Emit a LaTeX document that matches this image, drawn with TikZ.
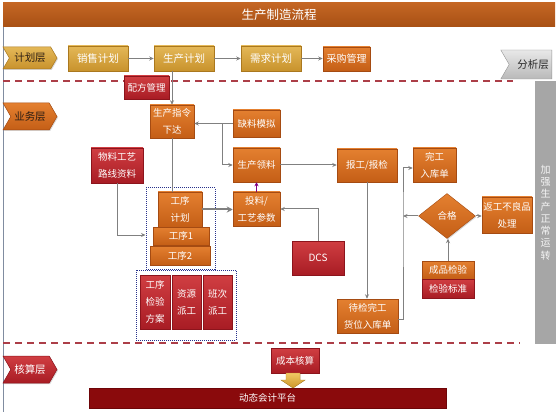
\documentclass[tikz,border=0pt]{standalone}
\usepackage{fontspec}
\setmainfont{Noto Sans CJK SC}
\usetikzlibrary{arrows.meta,shapes.geometric,shapes.symbols,shadows}
\definecolor{conn}{RGB}{128,128,128}
\definecolor{otop}{RGB}{228,128,48}
\definecolor{obot}{RGB}{196,94,22}
\definecolor{obd}{RGB}{165,75,18}
\definecolor{rtop}{RGB}{208,62,66}
\definecolor{rbot}{RGB}{168,28,36}
\definecolor{rbd}{RGB}{140,20,28}
\definecolor{gtop}{RGB}{228,184,88}
\definecolor{gbot}{RGB}{200,146,44}
\definecolor{gbd}{RGB}{170,120,30}
\definecolor{ttop}{RGB}{196,102,36}
\definecolor{tbot}{RGB}{168,80,20}
\definecolor{dred}{RGB}{138,10,12}
\definecolor{dredbd}{RGB}{110,5,8}
\definecolor{dashc}{RGB}{172,62,72}
\definecolor{dotc}{RGB}{40,50,140}
\definecolor{grayb}{RGB}{166,166,166}
\definecolor{graytxt}{RGB}{245,245,245}
\definecolor{fxtop}{RGB}{232,232,232}
\definecolor{fxbot}{RGB}{185,185,185}
\definecolor{fxbd}{RGB}{150,150,150}
\definecolor{fxtxt}{RGB}{40,40,40}
\definecolor{layertxt}{RGB}{45,30,20}
\definecolor{borderc}{RGB}{128,140,160}
\definecolor{arrtop}{RGB}{240,200,100}
\definecolor{arrbot}{RGB}{205,150,40}
\definecolor{arrbd}{RGB}{190,140,40}
\begin{document}
\begin{tikzpicture}[x=1pt,y=-1pt,
  base/.style={rectangle, inner sep=0pt, align=center, text=white,
    font=\fontsize{9.5}{17}\selectfont, line width=0.5pt,
    drop shadow={shadow xshift=1pt, shadow yshift=-1pt, opacity=0.3}},
  obox/.style={base, draw=obd, top color=otop, bottom color=obot},
  rbox/.style={base, draw=rbd, top color=rtop, bottom color=rbot},
  gbox/.style={base, draw=gbd, top color=gtop, bottom color=gbot, font=\fontsize{10.5}{14}\selectfont},
  layer/.style={signal, signal to=east, signal from=west, signal pointer angle=120,
    inner sep=0pt, text=white, font=\fontsize{10.5}{14}\selectfont, line width=0.5pt,
    drop shadow={shadow xshift=1pt, shadow yshift=-1pt, opacity=0.3}},
  dotbox/.style={rectangle, draw=dotc, line width=1pt, dash pattern=on 1pt off 1pt, inner sep=0pt},
  line/.style={draw=conn, line width=1pt},
  arr/.style={line, -{Stealth[length=4.5pt,width=4pt]}},
  thickarr/.style={draw=conn, line width=2pt, -{Stealth[length=6pt,width=6pt]}},
  purplearr/.style={draw=violet, line width=1pt, -{Stealth[length=4pt,width=4pt]}},
  dashline/.style={draw=dashc, line width=1.3pt, dash pattern=on 7pt off 5pt}]
\useasboundingbox (0,0) rectangle (558,412);
\fill[white] (0,0) rectangle (558,412);
\draw[draw=borderc, line width=0.8pt] (3,3) -- (3,412);

% dashed separators
\draw[dashline] (3,81) -- (513,81);
\draw[dashline] (3,343) -- (520,343);

% title
\node[rectangle, inner sep=0pt, top color=ttop, bottom color=tbot, text=white,
  minimum width=552pt, minimum height=24pt, font=\fontsize{12.5}{15}\selectfont] (title) at (279,15) {生产制造流程};

% analysis layer + gray bar
\node[rectangle, fill=grayb, minimum width=21pt, minimum height=262pt, inner sep=0pt, align=center,
  text=graytxt, font=\fontsize{10}{12.3}\selectfont] (gb) at (545.5,212.5)
  {加\\强\\生\\产\\正\\常\\运\\转};
\node[signal, signal from=west, signal to=nowhere, signal pointer angle=120, inner sep=0pt,
  draw=fxbd, top color=fxtop, bottom color=fxbot,
  text=fxtxt, minimum width=51pt, minimum height=29pt,
  font=\fontsize{10.5}{14}\selectfont] (fxc) at (530.5,64.5) {\hspace{5pt}分析层};

% planning layer
\node[layer, draw=gbd, top color=gtop, bottom color=gbot, text=layertxt, minimum width=54pt, minimum height=22pt] (jhc) at (30,58) {计划层};
\node[gbox, minimum width=60pt, minimum height=25pt] (xs) at (98,58.5) {销售计划};
\node[gbox, minimum width=60pt, minimum height=25pt] (scjh) at (184,58.5) {生产计划};
\node[gbox, minimum width=60pt, minimum height=25pt] (xq) at (271,58.5) {需求计划};
\node[obox, minimum width=47pt, minimum height=24pt, font=\fontsize{10}{14}\selectfont] (cg) at (346.5,59) {采购管理};

% business layer
\node[rbox, minimum width=45pt, minimum height=23pt] (pf) at (146.5,87.5) {配方管理};
\node[layer, draw=obd, top color=otop, bottom color=obot, text=layertxt, minimum width=54pt, minimum height=27pt] (ywc) at (30,116.5) {业务层};
\node[obox, minimum width=44pt, minimum height=33pt] (zl) at (172,121.5) {生产指令\\下达};
\node[obox, minimum width=47pt, minimum height=27pt] (ql) at (256.5,123.5) {缺料模拟};
\node[obox, minimum width=47pt, minimum height=34pt] (ll) at (256.5,165) {生产领料};
\node[rbox, minimum width=52pt, minimum height=35pt] (wl) at (117,165.5) {物料工艺\\路线资料};

\node[dotbox, minimum width=69pt, minimum height=81pt] (dr1) at (180.5,228.5) {};
\node[dotbox, minimum width=100pt, minimum height=70pt] (dr2) at (186,305) {};

\node[obox, minimum width=44pt, minimum height=35pt] (gxjh) at (180,209.5) {工序\\计划};
\node[obox, minimum width=56pt, minimum height=18pt] (gx1) at (181,236) {工序1};
\node[obox, minimum width=60pt, minimum height=19pt] (gx2) at (180,255.5) {工序2};
\node[obox, minimum width=47pt, minimum height=34pt] (tl) at (256.5,209) {投料/\\工艺参数};
\node[rbox, minimum width=52pt, minimum height=34pt, font=\fontsize{10}{14}\selectfont] (dcs) at (318,258) {DCS};

\node[rbox, minimum width=30pt, minimum height=54pt] (jyfa) at (155,302) {工序\\检验\\方案};
\node[rbox, minimum width=29pt, minimum height=54pt] (zy) at (186.5,302) {资源\\派工};
\node[rbox, minimum width=29pt, minimum height=54pt] (bc) at (217.5,302) {班次\\派工};

\node[obox, minimum width=60pt, minimum height=33pt] (bg) at (367,165.5) {报工/报检};
\node[obox, minimum width=43pt, minimum height=34pt] (wg) at (434.5,165) {完工\\入库单};
\node[diamond, inner sep=0pt, minimum width=57pt, minimum height=45pt, draw=obd, top color=otop, bottom color=obot,
  text=white, font=\fontsize{9.5}{12}\selectfont,
  drop shadow={shadow xshift=1pt, shadow yshift=-1pt, opacity=0.3}] (hg) at (447,216) {合格};
\node[obox, minimum width=50pt, minimum height=36pt] (fg) at (507,215) {返工不良品\\处理};
\node[obox, minimum width=52pt, minimum height=18pt] (cp) at (448,270) {成品检验};
\node[rbox, minimum width=52pt, minimum height=19pt] (jy) at (448,288.5) {检验标准};
\node[obox, minimum width=61pt, minimum height=34pt] (dj) at (367.5,316) {待检完工\\货位入库单};

% accounting layer
\node[layer, draw=rbd, top color=rtop, bottom color=rbot, minimum width=54pt, minimum height=27pt] (hsc) at (30,369.5) {核算层};
\node[rbox, minimum width=48pt, minimum height=25pt] (cb) at (295,360.5) {成本核算};
\node[rectangle, inner sep=0pt, fill=dred, draw=dredbd, text=white, minimum width=357pt, minimum height=20pt,
  font=\fontsize{9.5}{12}\selectfont,
  drop shadow={shadow xshift=1pt, shadow yshift=-1pt, opacity=0.3}] (pt) at (267.5,398) {动态会计平台};
\fill[top color=arrtop, bottom color=arrbot, draw=arrbd, line width=0.4pt]
  (286,373) -- (300,373) -- (300,380) -- (305,380) -- (293,388) -- (281,380) -- (286,380) -- cycle;

% connectors
\coordinate (jn) at (222,123.5);
\coordinate (vx) at (403,216);
\draw[arr] (xs) -- (scjh);
\draw[arr] (scjh) -- (xq);
\draw[arr] (xq.east) -- (cg.west |- xq.east);
\draw[arr] (scjh.south -| zl.north) -- (zl.north);
\draw[arr] (ql.west) -- (zl.east |- ql.west);
\draw[arr] (jn) |- (ll.west);
\draw[line] (zl.south) -- (zl.south |- gxjh.north);
\draw[arr] (wl.south) |- ([yshift=-6.5pt]dr1.west);
\draw[thickarr] (gxjh.east) -- (tl.west |- gxjh.east);
\draw[purplearr] (tl.north) -- (ll.south);
\draw[arr] (dcs.north) |- (tl.east);
\draw[arr] (ll.east) -- (bg.west |- ll.east);
\draw[arr] (bg.south) -- (bg.south |- dj.north);
\draw[arr] ([yshift=-3pt]dj.east) -| (vx) |- ([yshift=-3pt]wg.west);
\draw[arr] (hg.west) -- (vx);
\draw[arr] (hg.east) -- (fg.west |- hg.east);
\draw[arr] (cp.north) -- (cp.north |- hg.south);
\end{tikzpicture}
\end{document}
